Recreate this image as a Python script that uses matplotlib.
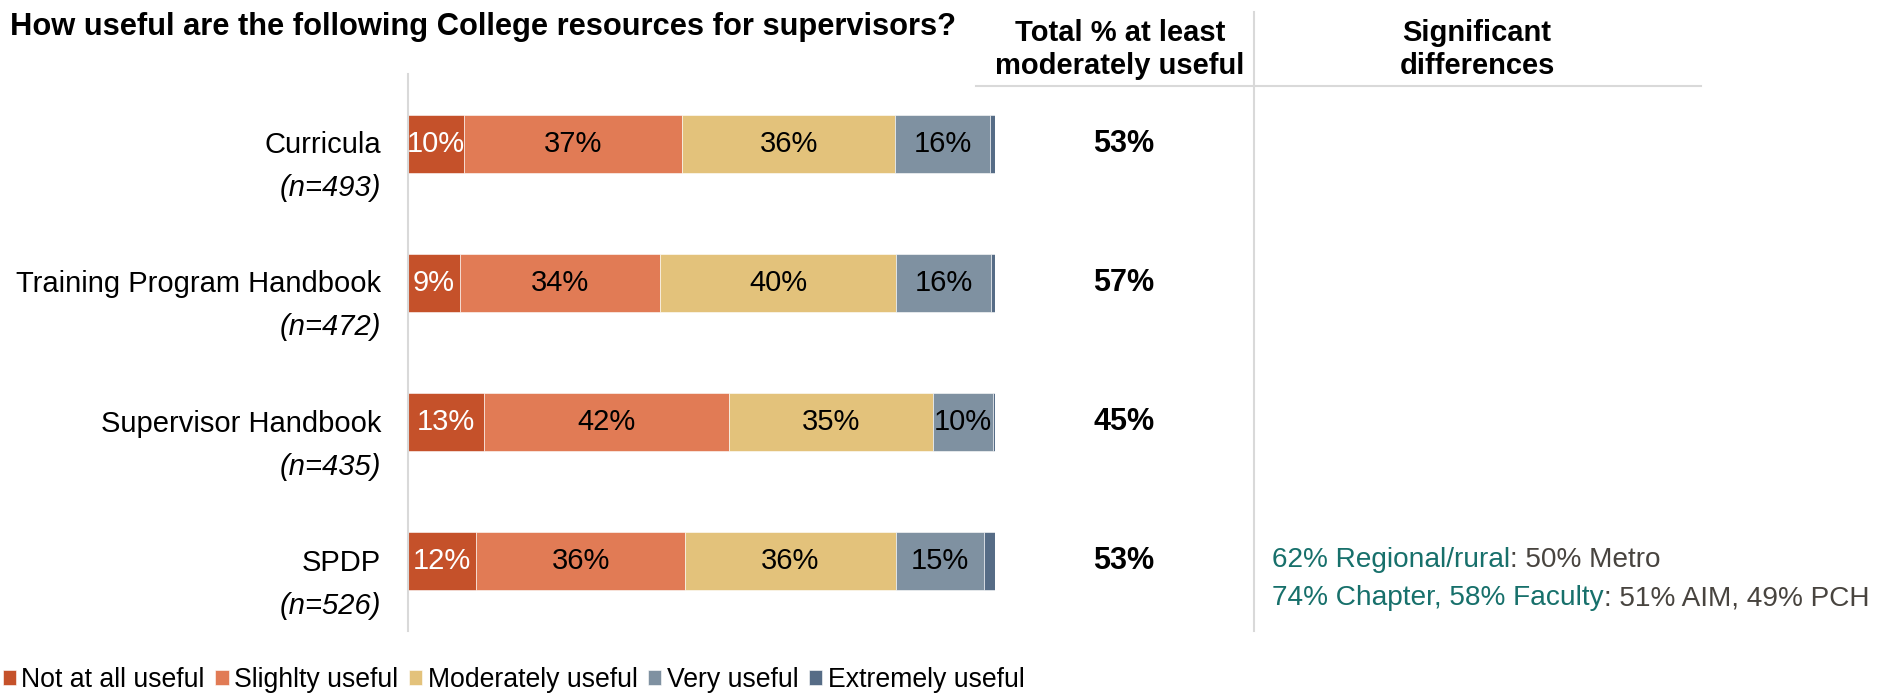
import numpy as np
import matplotlib
matplotlib.use("Agg")
import matplotlib.pyplot as plt
import matplotlib.transforms as mtransforms
from matplotlib.lines import Line2D

plt.rcParams['font.family'] = ['Liberation Sans', 'DejaVu Sans']

# Data
resources = ["Curricula", "Training Program Handbook", "Supervisor Handbook", "SPDP"]
sizes = ["(n=493)", "(n=472)", "(n=435)", "(n=526)"]
levels = ["Not at all useful", "Slighlty useful", "Moderately useful", "Very useful", "Extremely useful"]
not_at_all = [9.6, 8.8, 12.9, 11.6]
slightly = [37.1, 34.2, 41.8, 35.6]
moderately = [36.3, 40.1, 34.8, 35.9]
very = [16.2, 16.3, 10.1, 15.1]
extremely = [0.8, 0.6, 0.4, 1.8]
totals = ["53%", "57%", "45%", "53%"]
sig_diffs = {3: [[("62% Regional/rural", "teal"), (": 50% Metro", "dark")],
                 [("74% Chapter, 58% Faculty", "teal"), (": 51% AIM, 49% PCH", "dark")]]}

colors = ["#C5512A", "#E17B55", "#E3C27B", "#7F91A1", "#566C86"]
label_colors = ["white", "black", "black", "black", None]
text_cols = {"teal": "#17706B", "dark": "#48443F"}

series = [not_at_all, slightly, moderately, very, extremely]

fig = plt.figure(figsize=(18.78, 6.96), dpi=100)
ax = fig.add_axes([0.2173, 0.0934, 0.3125, 0.8003])

y = np.arange(len(resources))
left = np.zeros(len(resources))
handles = []
for vals, col, lcol, name in zip(series, colors, label_colors, levels):
    bars = ax.barh(y, vals, left=left, height=0.417, color=col, label=name,
                   edgecolor="white", linewidth=0.4)
    handles.append(bars)
    if lcol is not None:
        ax.bar_label(bars, labels=[f"{v:.0f}%" for v in vals], label_type="center",
                     color=lcol, fontsize=21)
    left += np.array(vals)

ax.set_xlim(0, 100)
ax.set_ylim(3.5, -0.5)
ax.set_xticks([])
ax.set_yticks([])
for s in ["top", "right", "bottom"]:
    ax.spines[s].set_visible(False)
ax.spines["left"].set_color("#D9D9D9")
ax.spines["left"].set_linewidth(1.5)

trans = mtransforms.blended_transform_factory(fig.transFigure, ax.transData)

# category labels
for i, (name, n) in enumerate(zip(resources, sizes)):
    fig.text(0.2029, i + 0.01, name, transform=trans, ha="right", va="center", fontsize=21)
    fig.text(0.2029, i + 0.32, n, transform=trans, ha="right", va="center",
             fontsize=21, style="italic")

# totals column
for i, t in enumerate(totals):
    fig.text(0.5985, i, t, transform=trans, ha="center", va="center",
             fontsize=22, fontweight="bold")

# significant differences
for i, lines in sig_diffs.items():
    for j, parts in enumerate(lines):
        yy = i - 0.01 + j * 0.275
        prev = None
        for txt, c in parts:
            if prev is None:
                prev = fig.text(0.6775, yy, txt, transform=trans, ha="left", va="center",
                                fontsize=20.2, color=text_cols[c])
            else:
                prev = ax.annotate(txt, xy=(1, 0), xycoords=prev, ha="left", va="bottom",
                                   fontsize=20.2, color=text_cols[c], annotation_clip=False)

# headers
fig.text(10 / 1878, 1 - 27 / 696, "How useful are the following College resources for supervisors?",
         ha="left", va="center", fontsize=22.2, fontweight="bold")
fig.text(0.5964, 0.929, "Total % at least\nmoderately useful", ha="center", va="center",
         fontsize=21, fontweight="bold", linespacing=1.25)
fig.text(0.7865, 0.929, "Significant\ndifferences", ha="center", va="center",
         fontsize=21, fontweight="bold", linespacing=1.25)

fig.add_artist(Line2D([0.6677, 0.6677], [0.983, 0.093], transform=fig.transFigure,
                      color="#D9D9D9", linewidth=1.5))
fig.add_artist(Line2D([0.5197, 0.9057], [0.876, 0.876], transform=fig.transFigure,
                      color="#D9D9D9", linewidth=1.5))

fig.legend(handles=handles, labels=levels, loc="lower left", bbox_to_anchor=(0.0, 0.0),
           ncol=5, frameon=False, fontsize=19.2, handlelength=0.5, handleheight=0.5,
           handletextpad=0.2, columnspacing=0.4, borderaxespad=0.0, borderpad=0.1)

fig.savefig("out.png", dpi=100)
